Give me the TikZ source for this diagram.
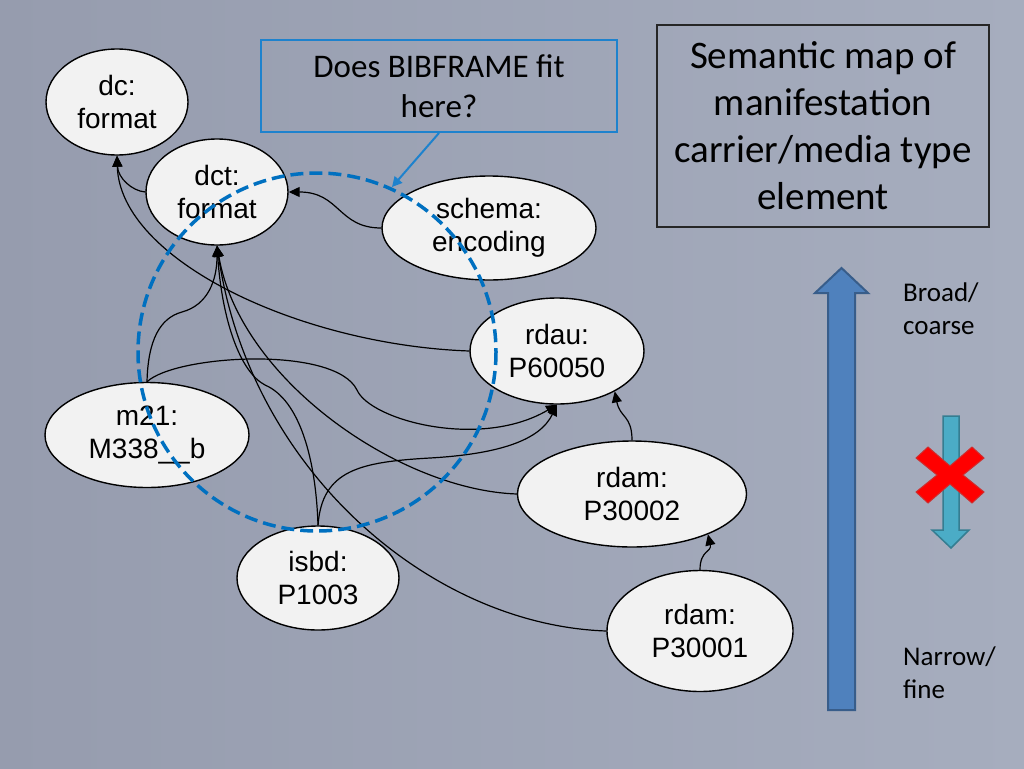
\documentclass[tikz,border=0pt]{standalone}
\usepackage{fontspec}
\newfontfamily\nodefont{Liberation Sans}
\newfontfamily\boxfont{Carlito}
\usetikzlibrary{shapes.geometric,arrows.meta}

\definecolor{bgleft}{RGB}{150,156,174}
\definecolor{bgright}{RGB}{166,173,190}
\definecolor{termfill}{RGB}{242,242,242}
\definecolor{mapblue}{RGB}{0,112,192}
\definecolor{callblue}{RGB}{30,130,205}
\definecolor{broadfill}{RGB}{79,129,189}
\definecolor{broadline}{RGB}{56,93,138}
\definecolor{finefill}{RGB}{75,172,198}
\definecolor{fineline}{RGB}{53,125,145}
\definecolor{crossline}{RGB}{205,45,45}

\begin{document}
\begin{tikzpicture}[x=1pt,y=-1pt]
    \tikzstyle{term} = [ellipse,draw=black,line width=1.4pt,fill=termfill,inner sep=0pt,align=center,font=\nodefont\fontsize{28}{33}\selectfont]
    \tikzstyle{link} = [line width=1.2pt,-{Triangle[length=11pt,width=10pt]}]
    \tikzstyle{sidenote} = [inner sep=0pt,align=left,anchor=north west,font=\boxfont\fontsize{27}{33}\selectfont]

    \useasboundingbox (0,0) rectangle (1024,768);
    \shade[left color=bgleft,right color=bgright] (0,0) rectangle (1024,768);

    \node[term,minimum width=142pt,minimum height=106pt] (dcfmt) at (117,102) {dc:\\format};
    \node[term,minimum width=142pt,minimum height=106pt] (dctfmt) at (217,192) {dct:\\format};
    \node[term,minimum width=214pt,minimum height=104pt] (schema) at (489,228) {schema:\\encoding};
    \node[term,minimum width=174pt,minimum height=106pt] (rdau) at (557,351) {rdau:\\P60050};
    \node[term,minimum width=204pt,minimum height=105pt] (marc) at (147,435) {m21:\\M338\_\_b};
    \node[term,minimum width=229pt,minimum height=106pt] (rdamtwo) at (632,494) {rdam:\\P30002};
    \node[term,minimum width=162pt,minimum height=104pt] (isbd) at (318,578) {isbd:\\P1003};
    \node[term,minimum width=186pt,minimum height=121pt] (rdamone) at (700,631) {rdam:\\P30001};

    \node[draw=callblue,line width=2pt,minimum width=356pt,minimum height=92pt,align=center,
          font=\boxfont\fontsize{33}{40}\selectfont] (bibq) at (439,86) {Does BIBFRAME fit\\here?};
    \node[draw=black!85,line width=1.5pt,minimum width=332pt,minimum height=202pt,align=center,
          font=\boxfont\fontsize{39}{47}\selectfont] (semmap) at (823,126) {Semantic map of\\manifestation\\carrier/media type\\element};

    % links between the terms
    \draw[link] (dctfmt.west) .. controls (132,191) and (118,178) .. (dcfmt.south);
    \draw[link] (rdau.west) .. controls (300,345) and (120,260) .. (dcfmt.south);
    \draw[link] (schema.west) .. controls (338,228) and (340,192) .. (dctfmt.east);
    \draw[link] (marc.north) .. controls (148,340) and (160,318) .. (182,312) .. controls (208,305) and (217,280) .. (dctfmt.south);
    \draw[link] (isbd.north) .. controls (316,460) and (300,400) .. (265,385) .. controls (240,372) and (222,320) .. (dctfmt.south);
    \draw[link] (rdamtwo.west) .. controls (400,490) and (240,380) .. (dctfmt.south);
    \draw[link] (rdamone.west) .. controls (430,625) and (250,470) .. (dctfmt.south);
    \draw[link] (marc.north) .. controls (175,355) and (335,345) .. (357,390) .. controls (370,420) and (480,450) .. (rdau.south);
    \draw[link] (isbd.north) .. controls (322,470) and (360,462) .. (430,458) .. controls (500,454) and (540,440) .. (rdau.south);
    \draw[link] (rdamtwo.north) .. controls (632,415) and (620,418) .. (rdau.-35);
    \draw[link] (rdamone.north) .. controls (700,550) and (712,552) .. (rdamtwo.-28);

    \draw[mapblue,line width=3.5pt,dash pattern=on 13pt off 6pt] (317,352) circle[radius=179];

    \coordinate (bibtip) at (392,187);
    \draw[callblue,line width=2pt,-{Triangle[length=10pt,width=10pt]}] (bibq.south) -- (bibtip);

    % granularity scale
    \filldraw[fill=broadfill,draw=broadline,line width=2pt] (828,710) -- (855,710) -- (855,293) -- (868,293) -- (841.5,268) -- (815,293) -- (828,293) -- cycle;
    \filldraw[fill=finefill,draw=fineline,line width=1.5pt] (943,416) -- (959,416) -- (959,530) -- (969,530) -- (951,548) -- (932,530) -- (943,530) -- cycle;
    \filldraw[fill=red,draw=crossline,line width=1pt,shift={(950,475)}] (-34,-17) -- (-22,-28) -- (0,-9) -- (22,-28) -- (34,-17) -- (13,0) -- (34,17) -- (22,28) -- (0,9) -- (-22,28) -- (-34,17) -- (-13,0) -- cycle;

    \node[sidenote] (broad) at (903,283) {Broad/\\coarse};
    \node[sidenote] (narrow) at (903,647) {Narrow/\\fine};
\end{tikzpicture}
\end{document}
